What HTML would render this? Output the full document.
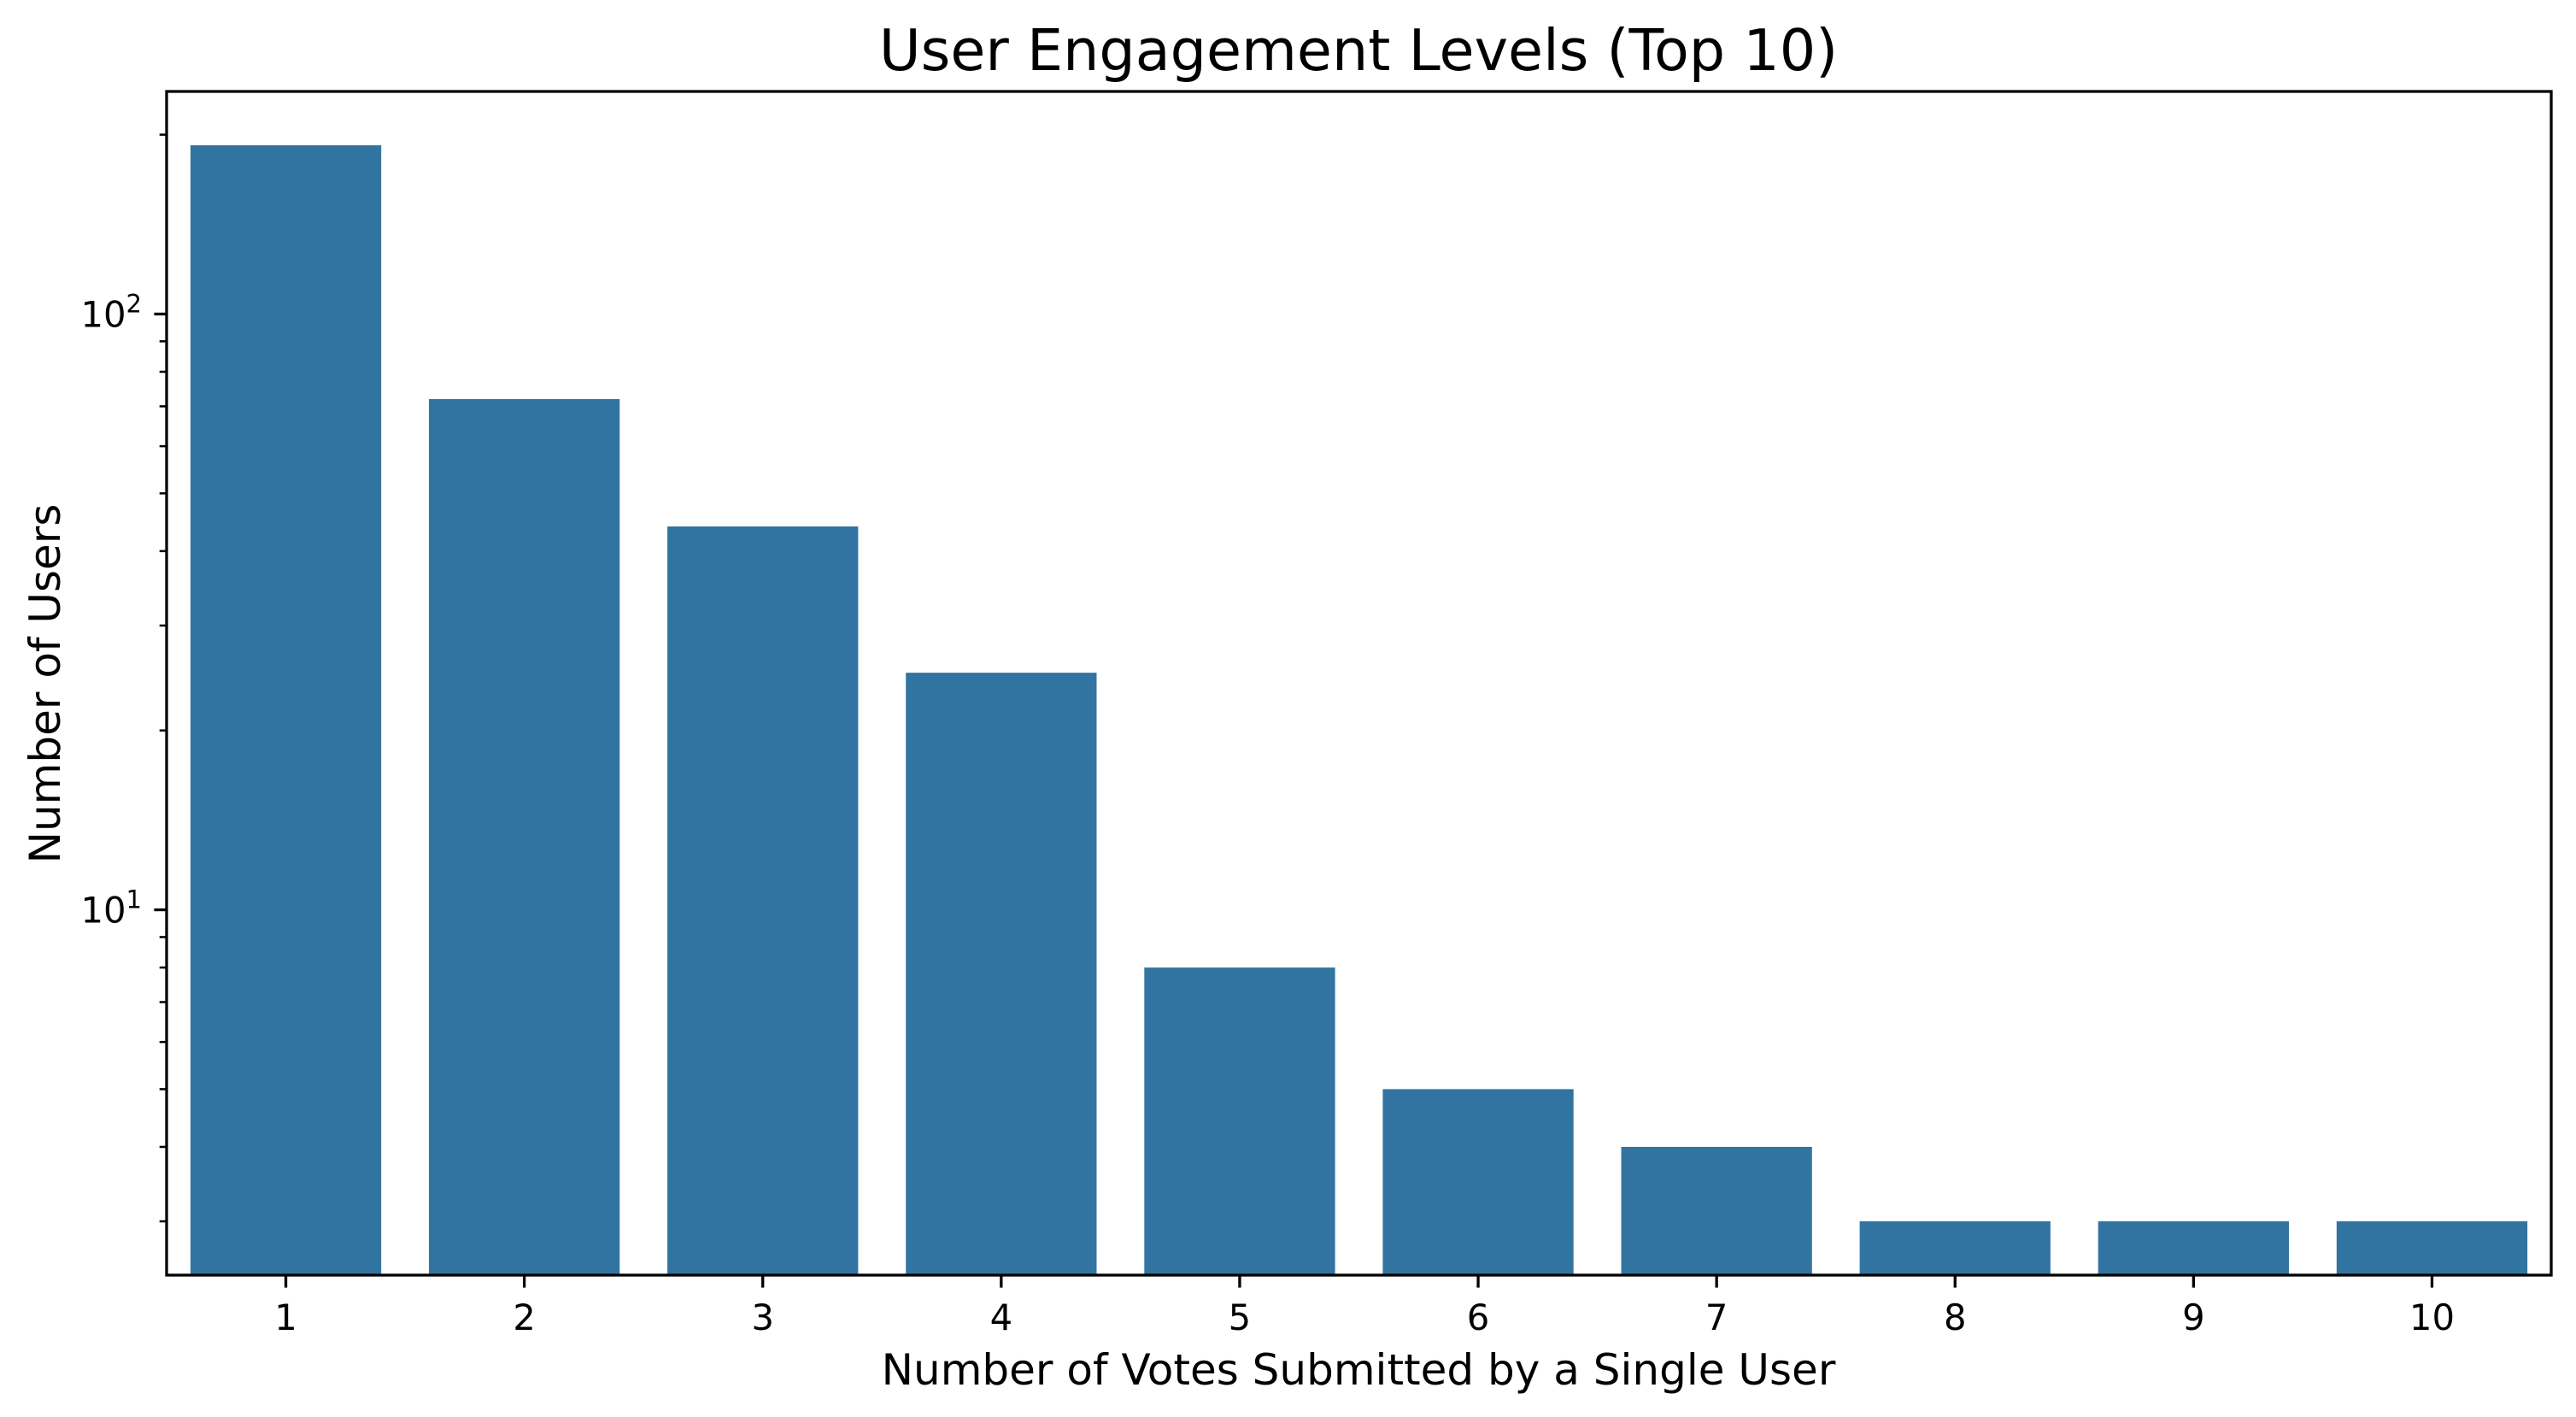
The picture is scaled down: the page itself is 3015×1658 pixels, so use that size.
<!DOCTYPE html>
<html><head><meta charset="utf-8"><style>
html,body{margin:0;padding:0;background:#fff;}
svg{display:block;font-family:"DejaVu Sans","Liberation Sans",sans-serif;}
</style></head><body>
<svg id="chart" width="3015" height="1658" viewBox="0 0 3015 1658" xmlns="http://www.w3.org/2000/svg">
<rect width="3015" height="1658" fill="#fff"/>
<text x="1590" y="82" font-size="66.7" text-anchor="middle">User Engagement Levels (Top 10)</text>
<text x="1590" y="1620" font-size="50" text-anchor="middle">Number of Votes Submitted by a Single User</text>
<text transform="translate(70,800) rotate(-90)" font-size="50" text-anchor="middle">Number of Users</text>
<g id="bars"></g>
<g id="ticks"></g>
<rect x="195" y="107" width="2791" height="1385" fill="none" stroke="#000" stroke-width="3.3"/>
</svg>
<script>
const categories = ["1","2","3","4","5","6","7","8","9","10"];
const users = [192, 72, 44, 25, 8, 5, 4, 3, 3, 3];
const majorTicks = [10, 100];
const majorLabels = ["1", "2"];

const L = 195, R = 2986, T = 107, B = 1492;
const NS = "http://www.w3.org/2000/svg";
const lmin = Math.log10(Math.min(...users)), lmax = Math.log10(Math.max(...users));
const pad = (lmax - lmin) * 0.05;
const y0 = lmin - pad, y1 = lmax + pad;
function yScale(v){ return B - (Math.log10(v) - y0) / (y1 - y0) * (B - T); }
const band = (R - L) / categories.length;
function xScale(i){ return L + band * (i + 0.5); }

const bars = document.getElementById('bars');
const ticks = document.getElementById('ticks');
function mk(tag, attrs){ const e = document.createElementNS(NS, tag); for (const k in attrs) e.setAttribute(k, attrs[k]); return e; }

users.forEach((v, i) => {
  const w = band * 0.8;
  const r = mk('rect', {x: xScale(i) - w/2, y: yScale(v), width: w, height: B - yScale(v), fill: '#3274a1'});
  
  
  bars.appendChild(r);
});

categories.forEach((c, i) => {
  const x = xScale(i);
  const t = mk('line', {x1: x, x2: x, y1: B, y2: B + 14.6, stroke: '#000', 'stroke-width': 3.3});
  
  
  ticks.appendChild(t);
  const lb = mk('text', {x: x, y: 1556, 'font-size': 41.7, 'text-anchor': 'middle'});
  lb.textContent = c;
  
  
  ticks.appendChild(lb);
});

// minor ticks
for (let d = 1; d <= 100; d *= 10) {
  for (let m = 2; m <= 9; m++) {
    const v = m * d, yy = yScale(v);
    if (yy < T || yy > B) continue;
    const t = mk('line', {x1: L - 8.3, x2: L, y1: yy, y2: yy, stroke: '#000', 'stroke-width': 2.5});
    
    
    ticks.appendChild(t);
  }
}
majorTicks.forEach((v, i) => {
  const yy = yScale(v);
  const t = mk('line', {x1: L - 14.6, x2: L, y1: yy, y2: yy, stroke: '#000', 'stroke-width': 3.3});
  
  
  ticks.appendChild(t);
  const lb = mk('text', {x: 166, y: yy + 15, 'font-size': 41.7, 'text-anchor': 'end'});
  const base = document.createElementNS(NS, 'tspan');
  base.textContent = '10';
  const sup = mk('tspan', {'font-size': 29, dy: -17});
  sup.textContent = majorLabels[i];
  lb.appendChild(base); lb.appendChild(sup);
  
  
  ticks.appendChild(lb);
});
</script>
</body></html>
